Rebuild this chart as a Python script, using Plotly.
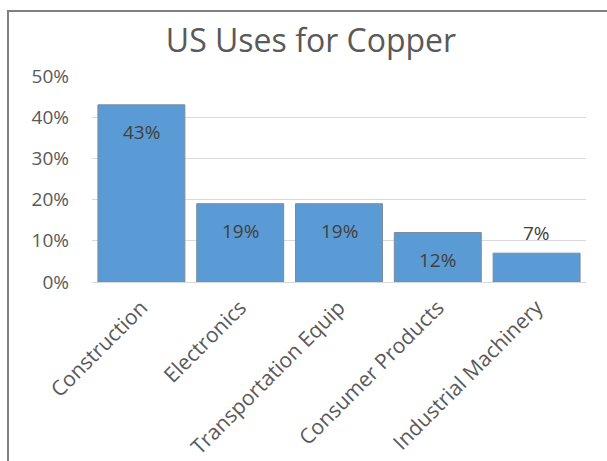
import plotly.graph_objects as go

categories = ["Construction", "Electronics", "Transportation Equip", "Consumer Products", "Industrial Machinery"]
values = [0.43, 0.19, 0.19, 0.12, 0.07]
label_texts = ["43%", "19%", "19%", "12%", "7%"]
label_inside = [True, True, True, True, False]
y_ticks = [0, 0.1, 0.2, 0.3, 0.4, 0.5]
y_tick_labels = ["0%", "10%", "20%", "30%", "40%", "50%"]

W, H = 607, 461
ML, MR, MT, MB = 92, 21, 76, 179
PW, PH = W - ML - MR, H - MT - MB

def px_x(p):
    return (p - ML) / PW

def px_y(p):
    return (H - MB - p) / PH

FONT = "Open Sans"
GRAY = "#595959"

fig = go.Figure()
fig.add_trace(go.Bar(
    x=categories, y=values,
    marker=dict(color="#5B9BD5", line=dict(color="#7A8A9A", width=1)),
    hoverinfo="skip",
))

for c, v, t, inside in zip(categories, values, label_texts, label_inside):
    fig.add_annotation(x=c, y=v, text=t, showarrow=False,
                       yshift=-27 if inside else 20,
                       font=dict(family=FONT, size=19, color="#404040"))

fig.add_shape(type="rect", xref="paper", yref="paper",
              x0=px_x(8), x1=px_x(640), y0=px_y(490), y1=px_y(11),
              line=dict(color="#808080", width=2), fillcolor="rgba(0,0,0,0)", layer="below")

fig.update_layout(
    width=W, height=H,
    margin=dict(l=ML, r=MR, t=MT, b=MB, autoexpand=False),
    paper_bgcolor="white", plot_bgcolor="white",
    bargap=0.12,
    showlegend=False,
    title=dict(text="US Uses for Copper", x=px_x(311), xref="paper", xanchor="center",
               y=1 - 41 / H, yanchor="middle",
               font=dict(family=FONT, size=32, color=GRAY)),
    xaxis=dict(tickangle=-45, tickfont=dict(family=FONT, size=21, color=GRAY),
               showline=True, linecolor="#D9D9D9", linewidth=1, ticks="", showgrid=False,
               ticklabelstandoff=4, automargin=False),
    yaxis=dict(range=[0, 0.5], tickvals=y_ticks, ticktext=y_tick_labels,
               tickfont=dict(family=FONT, size=19, color=GRAY),
               showgrid=True, gridcolor="#D9D9D9", gridwidth=1, zeroline=False,
               showline=False, ticks="", ticklabelstandoff=22, automargin=False),
)

fig.write_html("out.html")
